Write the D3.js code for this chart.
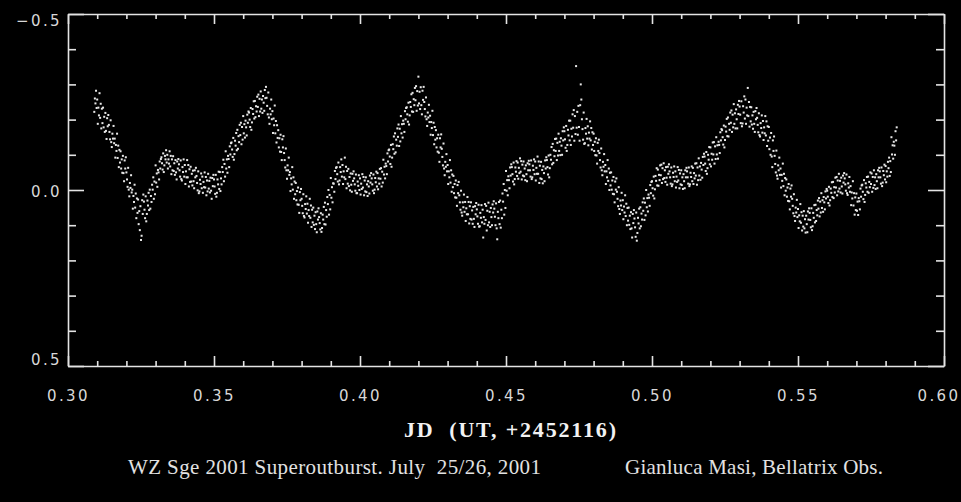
<!DOCTYPE html>
<html>
<head>
<meta charset="utf-8">
<script src="https://cdn.jsdelivr.net/npm/d3@7"></script>
<style>
  body { margin: 0; background: #000; }
  .axis path, .axis line { stroke: #e4e4e4; stroke-width: 1.6; }
  .axis text { fill: #d8d8d8; font-family: 'DejaVu Sans', sans-serif; font-size: 15px; letter-spacing: 2.4px; }
  .title { fill: #f2f2f2; font-family: 'Liberation Serif', serif; font-weight: bold; font-size: 22px; white-space: pre; }
  .caption { fill: #e2e2e2; font-family: 'Liberation Serif', serif; font-size: 21px; white-space: pre; }
</style>
</head>
<body>
<div class="d3-container"></div>
<script>
const w = 961
const h = 502

// axis ticks
const xMajor = [0.30, 0.35, 0.40, 0.45, 0.50, 0.55, 0.60]
const xMinor = [0.31, 0.32, 0.33, 0.34, 0.36, 0.37, 0.38, 0.39, 0.41, 0.42, 0.43, 0.44,
    0.46, 0.47, 0.48, 0.49, 0.51, 0.52, 0.53, 0.54, 0.56, 0.57, 0.58, 0.59]
const yMajor = [-0.5, 0.0, 0.5]
const yMinor = [-0.4, -0.3, -0.2, -0.1, 0.1, 0.2, 0.3, 0.4]

const xTitle = 'JD  (UT, +2452116)'
const caption = 'WZ Sge 2001 Superoutburst. July  25/26, 2001'
const credit = 'Gianluca Masi, Bellatrix Obs.'

// light curve: each row is a 0.001 d time bin, then the magnitudes read in it
const obs = [
[.309,-.222,-.26,-.246,-.282,-.233],[.310,-.257,-.188,-.234,-.212,-.275],[.311,-.205,-.245,-.175,-.231,-.19],
[.312,-.234,-.178,-.208,-.165,-.219],[.313,-.168,-.145,-.204,-.181,-.213],[.314,-.185,-.165,-.144,-.198,-.136],
[.315,-.122,-.16,-.146,-.182,-.133],[.316,-.146,-.092,-.128,-.111,-.16],[.317,-.091,-.126,-.065,-.114,-.078],
[.318,-.11,-.061,-.087,-.049,-.097],[.319,-.048,-.025,-.084,-.061,-.093],[.320,-.05,-.03,-.009,-.063,-.001],
[.321,.018,-.02,-.006,-.042,.007],[.322,-.001,.053,.017,.034,-.015],[.323,.05,.01,.08,.024,.065],
[.324,.027,.097,.06,.114,.046],[.325,.142,.13,.029,.068,.013],[.326,.033,.056,.08,.018,.089],
[.327,.068,.03,.044,.008,.057],[.328,-.001,.053,.017,.034,-.015],[.329,-.001,-.036,.025,-.024,.012],
[.330,-.07,-.021,-.047,-.009,-.057],[.331,-.05,-.03,-.081,-.061,-.088],[.332,-.093,-.076,-.058,-.104,-.051],
[.333,-.07,-.097,-.087,-.113,-.078],[.334,-.1,-.061,-.087,-.075,-.11],[.335,-.067,-.097,-.045,-.087,-.056],
[.336,-.096,-.054,-.076,-.043,-.085],[.337,-.05,-.03,-.081,-.061,-.088],[.338,-.073,-.056,-.038,-.084,-.031],
[.339,-.027,-.065,-.051,-.087,-.038],[.340,-.071,-.017,-.053,-.036,-.085],[.341,-.036,-.071,-.01,-.059,-.023],
[.342,-.066,-.024,-.046,-.013,-.055],[.343,-.025,-.005,-.056,-.036,-.063],[.344,-.04,-.02,.001,-.053,.009],
[.345,.004,-.029,-.017,-.047,-.005],[.346,-.038,.008,-.023,-.008,-.05],[.347,-.007,-.037,.015,-.027,.004],
[.348,-.046,-.004,-.026,.007,-.035],[.349,.002,.025,-.034,-.011,-.043],[.350,-.03,-.01,.011,-.043,.019],
[.351,.008,-.03,-.016,-.052,-.003],[.352,-.051,.003,-.033,-.016,-.065],[.353,-.051,-.086,-.025,-.074,-.038],
[.354,-.11,-.061,-.087,-.049,-.097],[.355,-.088,-.065,-.124,-.101,-.133],[.356,-.135,-.115,-.094,-.148,-.086],
[.357,-.102,-.14,-.126,-.162,-.113],[.358,-.171,-.117,-.153,-.136,-.185],[.359,-.156,-.191,-.13,-.179,-.143],
[.360,-.21,-.161,-.187,-.149,-.197],[.361,-.178,-.155,-.214,-.191,-.223],[.362,-.22,-.2,-.179,-.233,-.171],
[.363,-.192,-.23,-.216,-.252,-.203],[.364,-.253,-.207,-.238,-.223,-.265],[.365,-.236,-.271,-.21,-.259,-.223],
[.366,-.28,-.231,-.257,-.219,-.267],[.367,-.248,-.225,-.284,-.261,-.293],[.368,-.262,-.239,-.215,-.277,-.206],
[.369,-.188,-.231,-.215,-.257,-.201],[.370,-.224,-.162,-.203,-.184,-.24],[.371,-.161,-.196,-.135,-.184,-.148],
[.372,-.17,-.121,-.147,-.109,-.157],[.373,-.108,-.085,-.144,-.121,-.153],[.374,-.105,-.085,-.064,-.118,-.056],
[.375,-.032,-.07,-.056,-.092,-.043],[.376,-.051,.003,-.033,-.016,-.065],[.377,-.001,-.036,.025,-.024,.012],
[.378,-.02,.029,.003,.041,-.007],[.379,.042,.065,.006,.029,-.003],[.380,.025,.045,.066,.012,.074],
[.381,.078,.04,.054,.018,.067],[.382,.039,.093,.057,.074,.025],[.383,.079,.044,.105,.056,.092],
[.384,.05,.099,.073,.111,.063],[.385,.097,.12,.061,.084,.052],[.386,.077,.094,.112,.066,.119],
[.387,.108,.07,.084,.048,.097],[.388,.036,.098,.057,.076,.02],[.389,.04,0,.07,.014,.055],
[.390,-.034,.022,-.008,.035,-.019],[.391,-.018,.005,-.054,-.031,-.063],[.392,-.065,-.045,-.024,-.078,-.016],
[.393,-.027,-.065,-.051,-.087,-.038],[.394,-.071,-.017,-.053,-.036,-.092],[.395,-.031,-.066,-.005,-.054,-.018],
[.396,-.06,-.011,-.037,.001,-.047],[.397,-.015,.005,-.046,-.026,-.053],[.398,-.033,-.016,.002,-.044,.009],
[.399,.009,-.024,-.012,-.042,0],[.400,-.033,.013,-.018,-.003,-.045],[.401,-.007,-.037,.015,-.027,.004],
[.402,-.036,.006,-.016,.017,-.025],[.403,-.01,.01,-.041,-.021,-.048],[.404,-.033,-.016,.002,-.044,.009],
[.405,-.001,-.034,-.022,-.052,-.01],[.406,-.048,-.002,-.033,-.018,-.06],[.407,-.032,-.062,-.01,-.052,-.021],
[.408,-.086,-.044,-.066,-.033,-.075],[.409,-.068,-.045,-.104,-.081,-.113],[.410,-.115,-.095,-.074,-.128,-.066],
[.411,-.092,-.13,-.116,-.152,-.103],[.412,-.161,-.107,-.143,-.126,-.175],[.413,-.151,-.186,-.125,-.174,-.138],
[.414,-.21,-.161,-.187,-.149,-.197],[.415,-.188,-.165,-.224,-.201,-.233],[.416,-.235,-.215,-.194,-.248,-.186],
[.417,-.212,-.25,-.236,-.272,-.223],[.418,-.276,-.222,-.258,-.241,-.29],[.419,-.255,-.295,-.225,-.281,-.24],
[.420,-.322,-.246,-.279,-.23,-.292],[.421,-.241,-.215,-.282,-.256,-.293],[.422,-.25,-.23,-.209,-.263,-.201],
[.423,-.182,-.22,-.206,-.242,-.193],[.424,-.211,-.157,-.193,-.176,-.225],[.425,-.156,-.191,-.13,-.179,-.143],
[.426,-.17,-.121,-.147,-.109,-.157],[.427,-.106,-.08,-.147,-.121,-.158],[.428,-.117,-.094,-.07,-.132,-.061],
[.429,-.042,-.08,-.066,-.102,-.053],[.430,-.071,-.017,-.053,-.036,-.085],[.431,-.021,-.056,.005,-.044,-.008],
[.432,-.04,.009,-.017,.021,-.027],[.433,.022,.045,-.014,.009,-.023],[.434,.015,.035,.056,.002,.064],
[.435,.073,.035,.049,.013,.062],[.436,.034,.088,.052,.069,.02],[.437,.069,.034,.095,.046,.082],
[.438,.035,.084,.058,.096,.048],[.439,.082,.105,.046,.069,.037],[.440,.055,.075,.096,.042,.104],
[.441,.103,.065,.079,.043,.092],[.442,.056,.135,.077,.096,.04],[.443,.085,.045,.115,.059,.1],
[.444,.036,.092,.062,.105,.051],[.445,.077,.1,.041,.064,.032],[.446,.053,.076,.1,.038,.109],
[.447,.14,.062,.08,.034,.097],[.448,.03,.107,.056,.08,.01],[.449,.033,-.017,.07,0,.051],
[.450,-.054,.002,-.028,.015,-.039],[.451,-.028,-.005,-.064,-.041,-.073],[.452,-.065,-.045,-.024,-.078,-.016],
[.453,-.031,-.064,-.052,-.082,-.04],[.454,-.078,-.032,-.063,-.048,-.09],[.455,-.052,-.082,-.03,-.072,-.041],
[.456,-.081,-.039,-.061,-.028,-.07],[.457,-.045,-.025,-.076,-.056,-.083],[.458,-.073,-.056,-.038,-.084,-.031],
[.459,-.036,-.069,-.057,-.087,-.045],[.460,-.081,-.027,-.063,-.046,-.095],[.461,-.046,-.081,-.02,-.069,-.033],
[.462,-.08,-.031,-.057,-.019,-.067],[.463,-.048,-.025,-.084,-.061,-.093],[.464,-.085,-.065,-.044,-.098,-.036],
[.465,-.062,-.1,-.086,-.122,-.073],[.466,-.131,-.077,-.113,-.096,-.145],[.467,-.111,-.146,-.085,-.134,-.098],
[.468,-.16,-.111,-.137,-.099,-.147],[.469,-.126,-.1,-.167,-.141,-.178],[.470,-.167,-.144,-.12,-.182,-.111],
[.471,-.128,-.171,-.155,-.197,-.141],[.472,-.197,-.128,-.174,-.152,-.215],[.473,-.177,-.227,-.14,-.21,-.159],
[.474,-.352,-.177,-.222,-.157,-.239],[.475,-.179,-.14,-.241,-.3,-.257],[.476,-.201,-.173,-.143,-.22,-.131],
[.477,-.133,-.176,-.16,-.202,-.146],[.478,-.181,-.127,-.163,-.146,-.195],[.479,-.141,-.176,-.115,-.164,-.128],
[.480,-.16,-.111,-.137,-.099,-.147],[.481,-.098,-.075,-.134,-.111,-.143],[.482,-.105,-.085,-.064,-.118,-.056],
[.483,-.042,-.08,-.066,-.102,-.053],[.484,-.071,-.017,-.053,-.036,-.085],[.485,-.026,-.061,0,-.049,-.013],
[.486,-.05,-.001,-.027,.011,-.037],[.487,.012,.035,-.024,-.001,-.033],[.488,.005,.025,.046,-.008,.054],
[.489,.068,.03,.044,.008,.057],[.490,.029,.083,.047,.064,.015],[.491,.074,.039,.1,.051,.087],
[.492,.05,.099,.073,.111,.063],[.493,.109,.135,.068,.094,.057],[.494,.081,.106,.133,.064,.144],
[.495,.122,.079,.095,.053,.109],[.496,.049,.103,.067,.084,.035],[.497,.059,.024,.085,.036,.072],
[.498,0,.049,.023,.061,.013],[.499,.022,.045,-.014,.009,-.023],[.500,-.025,-.005,.016,-.038,.024],
[.501,-.002,-.04,-.026,-.062,-.013],[.502,-.058,-.012,-.043,-.028,-.07],[.503,-.042,-.072,-.02,-.062,-.031],
[.504,-.076,-.034,-.056,-.023,-.065],[.505,-.035,-.015,-.066,-.046,-.073],[.506,-.053,-.036,-.018,-.064,-.011],
[.507,-.016,-.049,-.037,-.067,-.025],[.508,-.053,-.007,-.038,-.023,-.065],[.509,-.027,-.057,-.005,-.047,-.016],
[.510,-.056,-.014,-.036,-.003,-.045],[.511,-.025,-.005,-.056,-.036,-.063],[.512,-.053,-.036,-.018,-.064,-.011],
[.513,-.016,-.049,-.037,-.067,-.025],[.514,-.063,-.017,-.048,-.033,-.075],[.515,-.041,-.076,-.015,-.064,-.028],
[.516,-.09,-.041,-.067,-.029,-.077],[.517,-.058,-.035,-.094,-.071,-.103],[.518,-.095,-.075,-.054,-.108,-.046],
[.519,-.062,-.1,-.086,-.122,-.073],[.520,-.121,-.067,-.103,-.086,-.135],[.521,-.101,-.136,-.075,-.124,-.088],
[.522,-.15,-.101,-.127,-.089,-.137],[.523,-.128,-.105,-.164,-.141,-.173],[.524,-.17,-.15,-.129,-.183,-.121],
[.525,-.142,-.18,-.166,-.202,-.153],[.526,-.206,-.152,-.188,-.171,-.22],[.527,-.191,-.226,-.165,-.214,-.178],
[.528,-.244,-.188,-.218,-.175,-.229],[.529,-.201,-.175,-.242,-.216,-.253],[.530,-.237,-.214,-.19,-.252,-.181],
[.531,-.189,-.238,-.22,-.266,-.203],[.532,-.257,-.188,-.234,-.212,-.29],[.533,-.21,-.25,-.18,-.236,-.195],
[.534,-.235,-.186,-.212,-.174,-.222],[.535,-.188,-.165,-.224,-.201,-.233],[.536,-.205,-.185,-.164,-.218,-.156],
[.537,-.152,-.19,-.176,-.212,-.163],[.538,-.196,-.142,-.178,-.161,-.21],[.539,-.155,-.195,-.125,-.181,-.14],
[.540,-.179,-.116,-.149,-.1,-.162],[.541,-.095,-.065,-.141,-.111,-.152],[.542,-.097,-.074,-.05,-.112,-.041],
[.543,-.032,-.07,-.056,-.092,-.043],[.544,-.061,-.007,-.043,-.026,-.075],[.545,-.011,-.046,.015,-.034,.002],
[.546,-.03,.019,-.007,.031,-.017],[.547,.032,.055,-.004,.019,-.013],[.548,.025,.045,.066,.012,.074],
[.549,.088,.05,.064,.028,.077],[.550,.054,.108,.072,.089,.04],[.551,.093,.063,.115,.073,.104],
[.552,.06,.109,.083,.121,.073],[.553,.097,.12,.061,.084,.052],[.554,.065,.085,.106,.052,.114],
[.555,.103,.065,.079,.043,.092],[.556,.042,.088,.057,.072,.03],[.557,.053,.023,.075,.033,.064],
[.558,.009,.051,.029,.062,.02],[.559,.035,.055,.004,.024,-.003],[.560,.002,.019,.037,-.009,.044],
[.561,.029,-.004,.008,-.022,.02],[.562,-.023,.023,-.008,.007,-.035],[.563,-.007,-.037,.015,-.027,.004],
[.564,-.046,-.004,-.026,.007,-.035],[.565,-.01,.01,-.041,-.021,-.048],[.566,-.033,-.016,.002,-.044,.009],
[.567,.014,-.019,-.007,-.037,.005],[.568,-.011,.043,.007,.024,-.025],[.569,.044,.009,.07,.021,.057],
[.570,.01,.059,.033,.071,.023],[.571,.032,.055,-.004,.019,-.013],[.572,-.015,.005,.026,-.028,.034],
[.573,.014,-.019,-.007,-.037,.005],[.574,-.038,.008,-.023,-.008,-.05],[.575,-.017,-.047,.005,-.037,-.006],
[.576,-.056,-.014,-.036,-.003,-.045],[.577,-.025,-.005,-.056,-.036,-.063],[.578,-.053,-.036,-.018,-.064,-.011],
[.579,-.021,-.054,-.042,-.072,-.03],[.580,-.068,-.022,-.053,-.038,-.08],[.581,-.062,-.092,-.04,-.082,-.051],
[.582,-.15,-.101,-.127,-.089,-.137],[.583,-.126,-.1,-.167,-.141,-.178]
]
const binWidth = 0.001

const svg = d3.select('.d3-container')
    .append('svg')
    .attr('width', w)
    .attr('height', h)

svg.append('rect')
    .attr('width', w)
    .attr('height', h)
    .attr('fill', '#000')

const x = d3.scaleLinear().domain([0.30, 0.60]).range([68, 944])
const y = d3.scaleLinear().domain([-0.5, 0.5]).range([14, 366])

// spread each bin's readings over its width
const points = []
obs.forEach(row => {
    const mags = row.slice(1)
    mags.forEach((mag, k) => {
        points.push({ jd: row[0] + k * binWidth / mags.length, mag: mag })
    })
})

svg.append('g')
    .selectAll('rect')
    .data(points)
    .enter()
    .append('rect')
    .attr('x', d => x(d.jd) - 1)
    .attr('y', d => y(d.mag) - 1)
    .attr('width', 2)
    .attr('height', 2)
    .attr('fill', '#e8e8e8')

// frame axes, ticks pointing inward
const addAxis = (axis, tx, ty, keepDomain) => {
    const g = svg.append('g')
        .attr('class', 'axis')
        .attr('transform', `translate(${tx}, ${ty})`)
        .call(axis)
    if (!keepDomain) g.select('.domain').remove()
    return g
}

const bottom = addAxis(d3.axisBottom(x).tickValues(xMajor).tickFormat(d3.format('.2f'))
    .tickSize(-10).tickSizeOuter(0).tickPadding(24), 0, 366, true)
addAxis(d3.axisBottom(x).tickValues(xMinor).tickFormat('').tickSize(-5), 0, 366, false)
addAxis(d3.axisTop(x).tickValues(xMajor).tickFormat('').tickSize(-10).tickSizeOuter(0), 0, 14, true)
addAxis(d3.axisTop(x).tickValues(xMinor).tickFormat('').tickSize(-5), 0, 14, false)

const left = addAxis(d3.axisLeft(y).tickValues(yMajor).tickFormat(d3.format('.1f'))
    .tickSize(-16).tickSizeOuter(0).tickPadding(6), 68, 0, true)
addAxis(d3.axisLeft(y).tickValues(yMinor).tickFormat('').tickSize(-8), 68, 0, false)
addAxis(d3.axisRight(y).tickValues(yMajor).tickFormat('').tickSize(-16).tickSizeOuter(0), 944, 0, true)
addAxis(d3.axisRight(y).tickValues(yMinor).tickFormat('').tickSize(-8), 944, 0, false)

// end labels sit inside the frame / window
left.selectAll('text')
    .attr('dy', d => d === -0.5 ? '0.78em' : d === 0.5 ? '-0.08em' : '0.4em')
bottom.selectAll('text')
    .filter(d => d === 0.60)
    .attr('text-anchor', 'end')
    .attr('x', 16)

svg.append('text')
    .attr('class', 'title')
    .attr('x', 510)
    .attr('y', 437)
    .attr('text-anchor', 'middle')
    .attr('textLength', 212)
    .attr('lengthAdjust', 'spacing')
    .text(xTitle)

svg.append('text')
    .attr('class', 'caption')
    .attr('x', 128)
    .attr('y', 474)
    .attr('textLength', 413)
    .attr('lengthAdjust', 'spacing')
    .text(caption)

svg.append('text')
    .attr('class', 'caption')
    .attr('x', 625)
    .attr('y', 474)
    .attr('textLength', 258)
    .attr('lengthAdjust', 'spacing')
    .text(credit)
</script>
</body>
</html>
